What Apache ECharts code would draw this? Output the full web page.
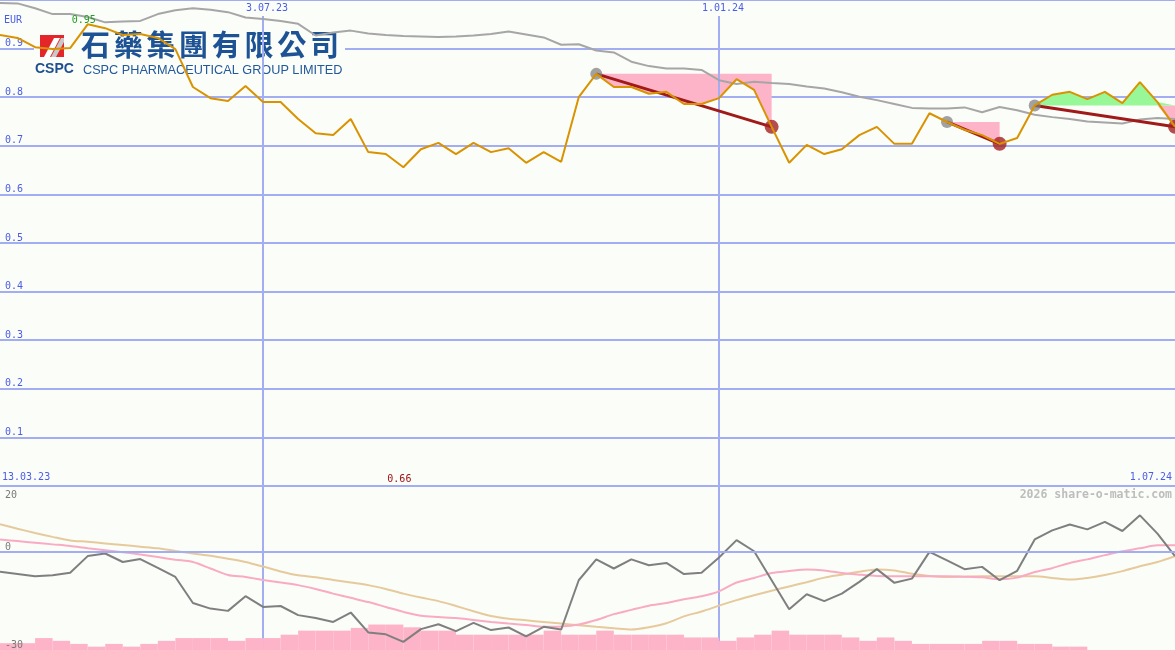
<!DOCTYPE html>
<html><head><meta charset="utf-8">
<script src="https://cdn.jsdelivr.net/npm/echarts@6/dist/echarts.min.js"></script>
<style>html,body{margin:0;padding:0;background:#fbfdf9}#c{width:1175px;height:650px}</style>
</head><body><div id="c"></div>
<script>
// ---------------- DATA ----------------
const weeks = ['20.03.23','27.03.23','3.04.23','10.04.23','17.04.23','24.04.23','1.05.23','8.05.23','15.05.23','22.05.23',
'29.05.23','5.06.23','12.06.23','19.06.23','26.06.23','3.07.23','10.07.23','17.07.23','24.07.23','31.07.23',
'7.08.23','14.08.23','21.08.23','28.08.23','4.09.23','11.09.23','18.09.23','25.09.23','2.10.23','9.10.23',
'16.10.23','23.10.23','30.10.23','6.11.23','13.11.23','20.11.23','27.11.23','4.12.23','11.12.23','18.12.23',
'25.12.23','1.01.24','8.01.24','15.01.24','22.01.24','29.01.24','5.02.24','12.02.24','19.02.24','26.02.24',
'4.03.24','11.03.24','18.03.24','25.03.24','1.04.24','8.04.24','15.04.24','22.04.24','29.04.24','6.05.24',
'13.05.24','20.05.24','27.05.24','3.06.24','10.06.24','17.06.24','24.06.24','1.07.24'];

const price = [0.928,0.922,0.903,0.899,0.901,0.950,0.942,0.928,0.930,0.922,
0.899,0.821,0.798,0.792,0.823,0.790,0.790,0.755,0.726,0.722,
0.755,0.687,0.683,0.656,0.693,0.706,0.683,0.706,0.687,0.695,
0.665,0.687,0.667,0.800,0.848,0.821,0.821,0.807,0.811,0.786,
0.786,0.798,0.837,0.815,0.739,0.665,0.702,0.683,0.693,0.722,
0.739,0.704,0.704,0.767,0.749,0.733,0.722,0.704,0.716,0.783,
0.805,0.811,0.796,0.811,0.788,0.831,0.790,0.739];

const movingAvg = [0.994,0.993,0.983,0.971,0.971,0.965,0.954,0.956,0.957,0.971,
0.979,0.983,0.980,0.975,0.964,0.961,0.957,0.951,0.927,0.933,
0.937,0.931,0.928,0.926,0.925,0.924,0.925,0.927,0.930,0.935,
0.929,0.923,0.908,0.909,0.896,0.892,0.873,0.864,0.859,0.859,
0.856,0.835,0.827,0.832,0.829,0.827,0.822,0.818,0.810,0.801,
0.794,0.786,0.778,0.777,0.777,0.779,0.769,0.780,0.773,0.764,
0.759,0.755,0.750,0.748,0.746,0.754,0.757,0.755];

const momentum = [-6.0,-6.7,-7.4,-7.1,-6.3,-1.2,-0.4,-3.0,-2.1,-4.8,
-7.6,-15.6,-17.3,-18.0,-13.5,-16.8,-16.5,-19.3,-20.2,-21.4,
-18.5,-24.6,-25.2,-27.5,-23.6,-22.1,-24.2,-21.7,-23.9,-23.1,
-25.8,-22.9,-23.7,-8.6,-2.2,-5.0,-2.2,-4.0,-3.3,-6.7,
-6.3,-1.6,3.7,0.3,-8.6,-17.5,-12.9,-15.0,-12.7,-9.1,
-5.2,-9.4,-8.1,0.1,-2.5,-5.2,-4.5,-8.6,-5.7,3.9,
6.7,8.5,7.0,9.3,6.5,11.3,5.7,-1.2];

const signalPink = [3.9,3.4,2.9,2.4,1.9,1.2,0.6,0.0,-0.7,-1.5,
-2.3,-3.0,-5.0,-7.0,-7.6,-8.5,-9.3,-10.1,-11.3,-12.7,
-14.0,-15.3,-16.8,-18.3,-19.5,-19.9,-20.2,-20.8,-21.4,-21.9,
-22.3,-22.9,-22.8,-22.2,-20.8,-19.0,-17.7,-16.4,-15.6,-14.4,
-13.5,-12.0,-9.3,-7.9,-6.4,-5.8,-5.3,-5.6,-6.4,-6.9,
-7.3,-7.4,-7.4,-7.4,-7.4,-7.5,-7.7,-8.3,-7.8,-6.1,
-4.9,-3.3,-2.2,-0.9,0.3,1.2,2.1,2.1];

const signalTan = [8.6,7.2,5.9,4.7,3.6,3.2,2.7,2.2,1.7,1.2,
0.4,-0.4,-1.1,-2.0,-3.0,-4.4,-5.9,-7.1,-7.7,-8.5,
-9.3,-10.1,-11.3,-12.7,-13.9,-15.0,-16.5,-18.1,-19.6,-20.4,
-20.9,-21.4,-21.9,-22.4,-22.9,-23.3,-23.7,-23.0,-21.8,-19.7,
-18.2,-16.4,-14.7,-13.2,-11.8,-10.5,-9.2,-7.8,-6.9,-6.0,
-5.3,-5.6,-6.6,-7.3,-7.6,-7.5,-7.4,-7.4,-7.4,-7.4,
-7.9,-8.4,-7.9,-7.0,-5.8,-4.3,-3.0,-1.2];

// weekly volume (one bar per week interval)
const volumeBars = [6.7,6.7,11.7,9,6,3.3,6,3.3,6,9,
11.7,11.7,11.7,9,11.7,11.7,15,19,19,19,
21.7,25,25,22.3,19,19,15,15,15,15,
15,19,15,15,19,15,15,15,15,12.3,
12.3,9,12.3,15,19,15,15,15,12.3,9,
12.3,9,6,6,6,6,9,9,6,6,
3.3,3.3,0,0,0,0,0];

const trendStart = [34, 54, 59];
const trendEnd = [44, 57, 67];
const markedDates = ['3.07.23', '1.01.24'];
const periodStart = '13.03.23';
const periodEnd = '1.07.24';
const currency = 'EUR';
const watermark = '2026 share-o-matic.com';
const logoChinese = '石藥集團有限公司';
const logoEnglish = 'CSPC PHARMACEUTICAL GROUP LIMITED';
const logoShort = 'CSPC';

// ---------------- STYLE ----------------
const FONT = 'DejaVu Sans Mono';
const BLUE = '#4b5de6';
const GRIDC = '#a3adf2';
const BG = '#fbfdf9';
const PINK = '#fdb4c8';
const GREEN = '#98f898';

// ---------------- DERIVED ----------------
const N = weeks.length;
const pinkBase = new Array(N).fill(null), pinkFill = new Array(N).fill(null);
const greenBase = new Array(N).fill(null), greenFill = new Array(N).fill(null);
trendStart.forEach((s, t) => {
  const e = trendEnd[t], L = price[s];
  for (let i = s; i <= e; i++) {
    const p = price[i];
    pinkBase[i] = Math.min(p, L); pinkFill[i] = +(Math.max(L - p, 0)).toFixed(4);
    greenBase[i] = L; greenFill[i] = +(Math.max(p - L, 0)).toFixed(4);
  }
});
let minIdx = 0, maxIdx = 0;
price.forEach((p, i) => { if (p < price[minIdx]) minIdx = i; if (p > price[maxIdx]) maxIdx = i; });

const trendSeries = trendStart.map((s, t) => ({
  type: 'line', xAxisIndex: 0, yAxisIndex: 0, z: 4, symbol: 'none', connectNulls: true,
  lineStyle: { color: '#a01a1a', width: 3 },
  data: weeks.map((w, i) => (i === s ? price[s] : i === trendEnd[t] ? price[i] : null))
}));

const isMarked = (i, v) => markedDates.indexOf(v) >= 0;

// ---------------- LOGO ----------------
const logo = [
  { type: 'rect', shape: { x: 34, y: 33, width: 311, height: 43 }, style: { fill: BG }, z: 1 },
  { type: 'rect', shape: { x: 40, y: 35, width: 24, height: 22 }, style: { fill: '#e4262b' }, z: 1 },
  { type: 'polygon', shape: { points: [[44, 57], [50, 57], [60, 38], [54, 38]] }, style: { fill: '#ffffff' }, z: 1 },
  { type: 'polygon', shape: { points: [[51, 57], [56, 57], [64, 42], [64, 38], [61, 38]] }, style: { fill: '#c9c9c9' }, z: 1 },
  { type: 'text', x: 35, y: 69, style: { text: logoShort, fontFamily: 'Liberation Sans', fontWeight: 'bold', fontSize: 14, fill: '#1d4f91', verticalAlign: 'middle' }, z: 1 },
  { type: 'text', x: 83, y: 70, style: { text: logoEnglish, fontFamily: 'Liberation Sans', fontSize: 12.7, fill: '#22589c', verticalAlign: 'middle' }, z: 1 }
];
logoChinese.split('').forEach((ch, k) => {
  logo.push({ type: 'text', x: 81 + 32.7 * k, y: 45, style: { text: ch, fontFamily: 'Noto Sans CJK TC', fontWeight: 'bold', fontSize: 29, fill: '#1d5294', verticalAlign: 'middle' }, z: 1 });
});

// ---------------- CHART ----------------
const chart = echarts.init(document.getElementById('c'));
const txt = (size, color) => ({ fontFamily: FONT, fontSize: size, color: color, fontWeight: 'normal' });

chart.setOption({
  animation: false,
  backgroundColor: BG,
  title: [
    { text: currency, left: 4, top: 15, padding: 0, textStyle: txt(10, BLUE) },
    { text: periodStart, left: 2, top: 472, padding: 0, textStyle: txt(10, BLUE) },
    { text: periodEnd, right: 3, top: 472, padding: 0, textStyle: txt(10, BLUE) },
    { text: watermark, right: 3, top: 489, padding: 0, textStyle: Object.assign(txt(11.5, '#bdbdbd'), { fontWeight: 'bold' }) }
  ],
  graphic: logo,
  grid: [
    { left: 0, right: 0, top: 0, height: 486, containLabel: false },
    { left: 0, right: 0, top: 487, height: 163, containLabel: false }
  ],
  xAxis: [
    { type: 'category', gridIndex: 0, data: weeks, boundaryGap: false, position: 'top', z: 3,
      axisLine: { show: false }, axisTick: { show: false },
      axisLabel: { inside: true, margin: 1, interval: isMarked, padding: [2, 1, 3, 9], backgroundColor: BG, ...txt(10, BLUE) },
      splitLine: { show: true, interval: isMarked, lineStyle: { color: GRIDC, width: 2 } } },
    { type: 'category', gridIndex: 1, data: weeks, boundaryGap: false, position: 'top',
      axisLine: { show: true, lineStyle: { color: '#6877ea', width: 2 } }, axisTick: { show: false },
      axisLabel: { show: false },
      splitLine: { show: true, interval: isMarked, lineStyle: { color: GRIDC, width: 2 } } },
    { type: 'category', gridIndex: 1, data: weeks.slice(0, N - 1), boundaryGap: true, show: false }
  ],
  yAxis: [
    { type: 'value', gridIndex: 0, min: 0, max: 1, interval: 0.1,
      axisLine: { show: false }, axisTick: { show: false },
      axisLabel: { inside: true, margin: 5, verticalAlign: 'bottom', align: 'left', ...txt(10, BLUE),
        formatter: v => (v > 0.001 && v < 0.999 ? v.toFixed(1) : '') },
      splitLine: { show: true, lineStyle: { color: GRIDC, width: 2 } } },
    { type: 'value', gridIndex: 1, min: -30, max: 20, interval: 10, z: 10,
      axisLine: { show: false }, axisTick: { show: false },
      axisLabel: { inside: true, margin: 5, verticalAlign: 'bottom', align: 'left', ...txt(10, '#7a7a7a'),
        formatter: v => (v === 0 || v === -30 ? String(v) : '') },
      splitLine: { show: false } },
    { type: 'value', gridIndex: 1, min: -30, max: 20, interval: 10, position: 'left', z: 10,
      axisLine: { show: false }, axisTick: { show: false },
      axisLabel: { inside: true, margin: 5, verticalAlign: 'top', align: 'left', padding: [3, 0, 0, 0], ...txt(10, '#7a7a7a'),
        formatter: v => (v === 20 ? String(v) : '') },
      splitLine: { show: false } },
    { type: 'value', gridIndex: 1, min: 0, max: 160, show: false, splitLine: { show: false } }
  ],
  series: [
    { type: 'line', xAxisIndex: 0, yAxisIndex: 0, stack: 'pink', z: 2, symbol: 'none', lineStyle: { opacity: 0, width: 0 }, data: pinkBase },
    { type: 'line', xAxisIndex: 0, yAxisIndex: 0, stack: 'pink', z: 2, symbol: 'none', lineStyle: { opacity: 0, width: 0 }, areaStyle: { color: PINK, opacity: 1 }, data: pinkFill },
    { type: 'line', xAxisIndex: 0, yAxisIndex: 0, stack: 'green', z: 2, symbol: 'none', lineStyle: { opacity: 0, width: 0 }, data: greenBase },
    { type: 'line', xAxisIndex: 0, yAxisIndex: 0, stack: 'green', z: 2, symbol: 'none', lineStyle: { opacity: 0, width: 0 }, areaStyle: { color: GREEN, opacity: 1 }, data: greenFill },
    { type: 'line', xAxisIndex: 0, yAxisIndex: 0, z: 3, symbol: 'none', lineStyle: { color: '#a6a6a6', width: 2 }, data: movingAvg },
    ...trendSeries,
    { type: 'scatter', xAxisIndex: 0, yAxisIndex: 0, z: 5, symbolSize: 12, itemStyle: { color: 'rgba(125,125,125,0.9)' },
      data: trendStart.map(s => [weeks[s], price[s]]) },
    { type: 'scatter', xAxisIndex: 0, yAxisIndex: 0, z: 5, symbolSize: 14, itemStyle: { color: '#a42020' },
      data: trendEnd.map(e => [weeks[e], price[e]]) },
    { type: 'line', xAxisIndex: 0, yAxisIndex: 0, z: 6, symbol: 'none', lineStyle: { color: '#d99300', width: 2 }, data: price,
      markPoint: { symbol: 'circle', symbolSize: 1, itemStyle: { color: 'rgba(0,0,0,0)' }, silent: true,
        data: [
          { coord: [weeks[maxIdx], price[maxIdx]], value: price[maxIdx].toFixed(2),
            label: { show: true, position: 'inside', offset: [-4, -4], formatter: '{c}', ...txt(10, '#1f9e1f') } },
          { coord: [weeks[minIdx], 0], value: price[minIdx].toFixed(2),
            label: { show: true, position: 'inside', offset: [-4, -7], formatter: '{c}', ...txt(10, '#a01414') } }
        ] } },
    { type: 'bar', xAxisIndex: 2, yAxisIndex: 3, z: 1, barCategoryGap: '0%', itemStyle: { color: PINK }, data: volumeBars },
    { type: 'line', xAxisIndex: 1, yAxisIndex: 1, z: 2, symbol: 'none', smooth: 0.3, lineStyle: { color: '#e6ca9c', width: 2 }, data: signalTan,
      markLine: { silent: true, symbol: 'none', label: { show: false }, lineStyle: { color: GRIDC, width: 2, type: 'solid' }, data: [{ yAxis: 0 }] } },
    { type: 'line', xAxisIndex: 1, yAxisIndex: 1, z: 3, symbol: 'none', smooth: 0.3, lineStyle: { color: '#f9abc3', width: 2 }, data: signalPink },
    { type: 'line', xAxisIndex: 1, yAxisIndex: 1, z: 4, symbol: 'none', lineStyle: { color: '#7f7f7f', width: 2 }, data: momentum }
  ]
});
</script>
</body></html>
